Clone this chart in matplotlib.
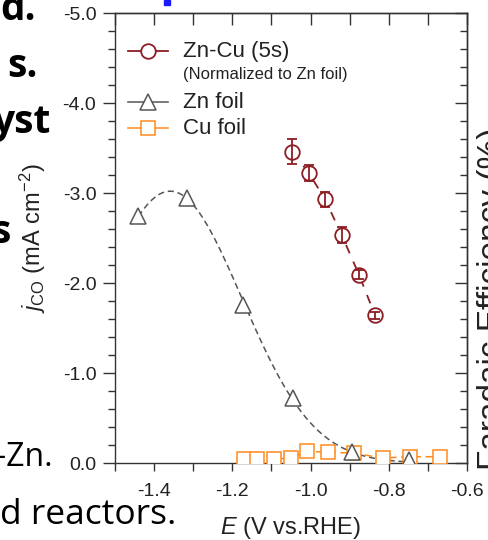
import numpy as np
import matplotlib
matplotlib.use("Agg")
import matplotlib.pyplot as plt
from matplotlib.ticker import MultipleLocator, FuncFormatter
from matplotlib.patches import Rectangle

plt.rcParams["font.family"] = ["Liberation Sans", "DejaVu Sans"]
plt.rcParams["axes.unicode_minus"] = False
plt.rcParams["mathtext.fontset"] = "custom"
plt.rcParams["mathtext.rm"] = "Liberation Sans"
plt.rcParams["mathtext.it"] = "Liberation Sans:italic"

# Zn-Cu (5s), normalized to Zn foil
zncu_E = [-1.047, -1.004, -0.963, -0.920, -0.876, -0.835]
zncu_j = [-3.46, -3.22, -2.93, -2.53, -2.09, -1.64]
zncu_err = [0.14, 0.09, 0.08, 0.09, 0.05, 0.04]

# Zn foil
zn_E = [-1.44, -1.316, -1.173, -1.045, -0.894, -0.748]
zn_j = [-2.75, -2.94, -1.76, -0.72, -0.12, -0.03]

# Cu foil
cu_E = [-1.17, -1.137, -1.093, -1.05, -1.01, -0.955, -0.89, -0.815, -0.746, -0.67]
cu_j = [-0.045, -0.045, -0.045, -0.055, -0.13, -0.12, -0.11, -0.055, -0.07, -0.07]

legend_labels = ["Zn-Cu (5s)", "(Normalized to Zn foil)", "Zn foil", "Cu foil"]

RED = "#8c1d24"
GRAY = "#555555"
ORANGE = "#ff8a1c"
INK = "#222222"
SPINE = "#333333"

W, H = 488, 540


def px(x, y):
    return x / W, 1 - y / H


fig = plt.figure(figsize=(W / 100, H / 100), dpi=100)
ax = fig.add_axes([115 / W, 1 - 463 / H, 352 / W, 450 / H])

styles = {
    "zncu": dict(color=RED, marker="o", ms=10.5, mew=1.3, lw=1.3),
    "zn": dict(color=GRAY, marker="^", ms=11, mew=1.1, lw=1.1),
    "cu": dict(color=ORANGE, marker="s", ms=9.5, mew=1.1, lw=1.1),
}

# Zn foil guide: gaussian fitted to the measured points
coef = np.polyfit(zn_E[:5], np.log(-np.array(zn_j[:5])), 2)
xs = np.linspace(zn_E[0], zn_E[-1], 200)
ax.plot(xs, -np.exp(np.polyval(coef, xs)), color=GRAY, lw=1.1,
        dashes=(4, 2.5), zorder=2)
s = styles["zn"]
ax.plot(zn_E, zn_j, linestyle="none", marker=s["marker"], ms=s["ms"],
        mfc="white", mec=s["color"], mew=s["mew"], zorder=4)

s = styles["cu"]
ax.plot(cu_E, cu_j, color=s["color"], lw=s["lw"], dashes=(5, 3),
        marker=s["marker"], ms=s["ms"], mfc="white", mec=s["color"],
        mew=s["mew"], zorder=3)

s = styles["zncu"]
ax.plot(zncu_E, zncu_j, color=s["color"], lw=s["lw"], dashes=(5, 5),
        marker=s["marker"], ms=s["ms"], mfc="white", mec=s["color"],
        mew=s["mew"], zorder=5)
ax.errorbar(zncu_E, zncu_j, yerr=zncu_err, fmt="none", ecolor=RED,
            elinewidth=1.3, capsize=3.5, capthick=1.3, zorder=6)

ax.set_xlim(-1.5, -0.6)
ax.set_ylim(0, -5)

ax.xaxis.set_major_locator(MultipleLocator(0.1))
ax.xaxis.set_major_formatter(FuncFormatter(
    lambda v, p: f"{v:.1f}" if round(v * 10) % 2 == 0 else ""))
ax.yaxis.set_major_locator(MultipleLocator(1.0))
ax.yaxis.set_minor_locator(MultipleLocator(0.2))
ax.yaxis.set_major_formatter(FuncFormatter(
    lambda v, p: "0.0" if abs(v) < 1e-9 else f"{v:.1f}"))

ax.tick_params(axis="x", which="both", direction="out", length=5.5,
               width=1.0, pad=9, labelsize=14, colors=SPINE,
               labelcolor=INK)
ax.tick_params(axis="y", which="major", direction="out", length=8.5,
               width=1.0, pad=5, labelsize=14, colors=SPINE,
               labelcolor=INK)
ax.tick_params(axis="y", which="minor", direction="out", length=5,
               width=1.0, colors=SPINE)

secx = ax.secondary_xaxis("top")
secx.xaxis.set_major_locator(MultipleLocator(0.1))
secx.tick_params(direction="in", length=8.5, width=1.0, labeltop=False,
                 colors=SPINE)
secy = ax.secondary_yaxis("right")
secy.yaxis.set_major_locator(MultipleLocator(1.0))
secy.yaxis.set_minor_locator(MultipleLocator(0.2))
secy.tick_params(which="major", direction="in", length=8.5, width=1.0,
                 labelright=False, colors=SPINE)
secy.tick_params(which="minor", direction="in", length=5, width=1.0,
                 colors=SPINE)

for sp in list(ax.spines.values()) + [secx.spines["top"], secy.spines["right"]]:
    sp.set_color(SPINE)
    sp.set_linewidth(1.0)

ax.set_xlabel(r"$E$ (V vs.RHE)", fontsize=17, color=INK)
ax.xaxis.set_label_coords(0.5, -0.115)
ax.set_ylabel(r"$j_{\rm CO}$ (mA cm$^{-2}$)", fontsize=17, color=INK)
ax.yaxis.set_label_coords(-0.19, 0.5)

# legend drawn by hand so the subtitle row can be smaller
rows = [(51, "zncu", 16), (75, None, 12), (102, "zn", 16), (128, "cu", 16)]
for (ypix, key, fs), label in zip(rows, legend_labels):
    ya = (463 - ypix) / 450
    if key:
        s = styles[key]
        ax.plot([0.037, 0.151], [ya, ya], transform=ax.transAxes,
                color=s["color"], lw=s["lw"], clip_on=False, zorder=6)
        ax.plot([0.094], [ya], transform=ax.transAxes, linestyle="none",
                marker=s["marker"], ms=s["ms"], mfc="white",
                mec=s["color"], mew=s["mew"], clip_on=False, zorder=7)
    ax.text(0.193, ya, label, transform=ax.transAxes, fontsize=fs,
            color=INK, ha="left", va="center")

# surrounding slide fragments
bold = dict(fontsize=28, fontweight="bold", family="Open Sans",
            ha="right", va="baseline", color="black")
fig.text(*px(36, 20), "d.", **bold)
fig.text(*px(38, 77), "s.", **bold)
fig.text(*px(51, 133), "yst", **bold)
fig.text(*px(11, 243), "s", **bold)
reg = dict(fontsize=23, family="Open Sans", ha="right", va="baseline",
           color="black")
fig.text(*px(53, 466), "Cu-Zn.", **reg)
fig.text(*px(176, 524), "d reactors.", **{**reg, "fontsize": 25.5})
fig.text(*px(477, 299), "Faradaic Efficiency (%)", fontsize=24,
         rotation=90, ha="left", va="center", color=INK)
fig.patches.append(Rectangle((164 / W, 1 - 5 / H), 6 / W, 5 / H,
                             transform=fig.transFigure, color="#1a1aff"))

fig.savefig("out.png", dpi=100, facecolor="white")
